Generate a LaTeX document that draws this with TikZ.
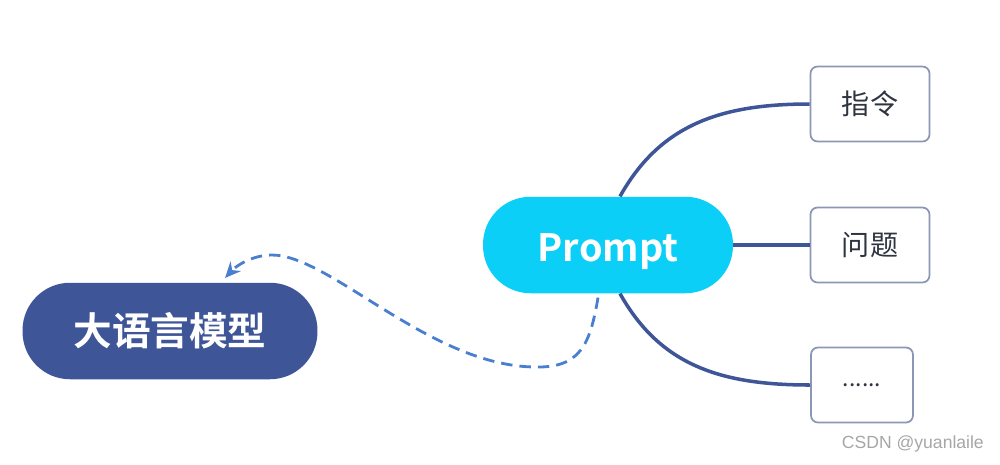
\documentclass[tikz,border=0pt]{standalone}
\usepackage{fontspec}
\setmainfont{Noto Sans CJK SC}
\newfontfamily\cjkbold{Noto Sans CJK SC Bold}
\newfontfamily\wmfont{Liberation Sans}
\usetikzlibrary{arrows.meta,positioning}

\definecolor{llmblue}{HTML}{3E5597}
\definecolor{promptcyan}{HTML}{0BCFF7}
\definecolor{boxline}{HTML}{8C97B5}
\definecolor{dashblue}{HTML}{4A7FD0}
\definecolor{txtgray}{HTML}{2E3440}

\begin{document}
\begin{tikzpicture}[x=0.02cm,y=-0.02cm,
    pill/.style={rectangle,rounded corners=0.95cm,minimum height=1.93cm,text=white,inner sep=0pt},
    leaf/.style={draw=boxline,line width=1pt,rounded corners=0.14cm,fill=white,
                 minimum height=1.5cm,minimum width=2.38cm,text=txtgray,font=\fontsize{16}{16}\selectfont},
    branch/.style={draw=llmblue,line width=2pt},
    feedback/.style={draw=dashblue,line width=1.6pt,dash pattern=on 6.5pt off 4pt,
                     -{Stealth[length=9pt,width=8pt]}}]

                \useasboundingbox (0,0) rectangle (1000,464);

                \node[pill,fill=llmblue,minimum width=5.9cm,font=\cjkbold\fontsize{22}{22}\selectfont] (llm) at (170,331) {大语言模型};

                \node[pill,fill=promptcyan,minimum width=5cm,font=\cjkbold\fontsize{21.5}{21.5}\selectfont,text depth=0pt] (prompt) at (608,245) {\raisebox{-3pt}{Prompt}};

                \node[leaf] (zhiling) at (870,104) {指令};

                \node[leaf] (wenti) at (870,245) {问题};

                \node[leaf,minimum width=2.04cm,font=\fontsize{13}{13}\selectfont] (more) at (862,385) {......};

                

                \draw[branch] ([xshift=0.24cm]prompt.north) .. controls (660,125) and (720,104) .. (zhiling.west);

                \draw[branch] (prompt.east) -- (wenti.west);

                \draw[branch] ([xshift=0.24cm]prompt.south) .. controls (660,365) and (720,385) .. (more.west);

                

                \coordinate (tip) at (225,278);

                \draw[feedback] ([xshift=-0.2cm,yshift=-0.08cm]prompt.south) .. controls (590,345) and (580,368) .. (535,367)

                                .. controls (430,366) and (330,255) .. (272,255)

                                .. controls (252,255) and (236,266) .. (tip);

                

                \node[text=gray!70,font=\wmfont\fontsize{10}{10}\selectfont,anchor=east] (mark) at (990,444) {CSDN @yuanlaile};

            \end{tikzpicture}
\end{document}
